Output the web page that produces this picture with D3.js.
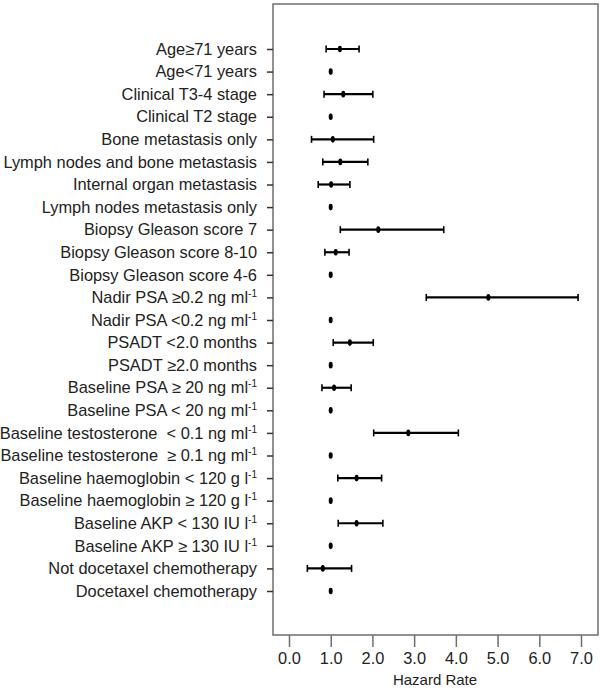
<!DOCTYPE html>
<html>
<head>
<meta charset="utf-8">
<script src="https://cdn.jsdelivr.net/npm/d3@7"></script>
<style>
  html, body { margin: 0; padding: 0; background: #fff; }
  svg { display: block; font-family: "Liberation Sans", Arial, sans-serif; }
  text { white-space: pre; }
</style>
</head>
<body>
<svg id="chart" width="600" height="688"></svg>
<script>
// Category labels (a "^" marks the start of a superscript)
const categories = [
  "Age≥71 years",
  "Age<71 years",
  "Clinical T3-4 stage",
  "Clinical T2 stage",
  "Bone metastasis only",
  "Lymph nodes and bone metastasis",
  "Internal organ metastasis",
  "Lymph nodes metastasis only",
  "Biopsy Gleason score 7",
  "Biopsy Gleason score 8-10",
  "Biopsy Gleason score 4-6",
  "Nadir PSA ≥0.2 ng ml^-1",
  "Nadir PSA <0.2 ng ml^-1",
  "PSADT <2.0 months",
  "PSADT ≥2.0 months",
  "Baseline PSA ≥ 20 ng ml^-1",
  "Baseline PSA < 20 ng ml^-1",
  "Baseline testosterone  < 0.1 ng ml^-1",
  "Baseline testosterone  ≥ 0.1 ng ml^-1",
  "Baseline haemoglobin < 120 g l^-1",
  "Baseline haemoglobin ≥ 120 g l^-1",
  "Baseline AKP < 130 IU l^-1",
  "Baseline AKP ≥ 130 IU l^-1",
  "Not docetaxel chemotherapy",
  "Docetaxel chemotherapy"
];
// Hazard ratio point estimates
const hazard = [1.22, 1.00, 1.30, 1.00, 1.05, 1.23, 1.01, 1.00, 2.14, 1.12, 1.00,
                4.78, 1.00, 1.46, 1.00, 1.08, 1.00, 2.86, 1.00, 1.62, 1.00, 1.62, 1.00, 0.81, 1.00];
// 95% CI lower bounds (null = reference category, no interval)
const lower = [0.89, null, 0.84, null, 0.54, 0.81, 0.70, null, 1.23, 0.86, null,
               3.29, null, 1.06, null, 0.79, null, 2.03, null, 1.17, null, 1.18, null, 0.44, null];
// 95% CI upper bounds
const upper = [1.68, null, 2.01, null, 2.03, 1.89, 1.46, null, 3.71, 1.44, null,
               6.93, null, 2.02, null, 1.49, null, 4.06, null, 2.22, null, 2.25, null, 1.50, null];
// X axis ticks
const xTicks = [0, 1, 2, 3, 4, 5, 6, 7];
const xTitle = "Hazard Rate";

const data = categories.map((c, i) => ({ cat: c, hr: hazard[i], lo: lower[i], hi: upper[i] }));

const svg = d3.select("#chart");
const box = { left: 273, right: 598, top: 4, bottom: 635 };

const x = d3.scaleLinear().domain([0, 7]).range([289, 581]);
const y = d3.scalePoint().domain(categories).range([49, 591]);

// frame
svg.append("rect")
  .attr("x", box.left).attr("y", box.top)
  .attr("width", box.right - box.left).attr("height", box.bottom - box.top)
  .attr("fill", "none").attr("stroke", "#6e6e6e").attr("stroke-width", 1.5);

// x axis
const xAxis = svg.append("g")
  .attr("transform", `translate(0,${box.bottom})`)
  .call(d3.axisBottom(x).tickValues(xTicks).tickFormat(d3.format(".1f")).tickSize(12).tickPadding(5));
xAxis.select(".domain").remove();
xAxis.selectAll(".tick line").attr("stroke", "#6e6e6e").attr("stroke-width", 1.5);
xAxis.selectAll(".tick text").attr("font-size", 16.4).attr("fill", "#222")
  .attr("font-family", "Liberation Sans, Arial, sans-serif");

svg.append("text")
  .attr("x", x(3.5)).attr("y", 685)
  .attr("text-anchor", "middle").attr("font-size", 15).attr("fill", "#222")
  .text(xTitle);

// y axis
const yAxis = svg.append("g")
  .attr("transform", `translate(${box.left},0)`)
  .call(d3.axisLeft(y).tickSize(6).tickPadding(10).tickFormat(""));
yAxis.select(".domain").remove();
yAxis.selectAll(".tick line").attr("stroke", "#333").attr("stroke-width", 1.5);

// y labels with superscripts
svg.append("g").selectAll("text")
  .data(categories)
  .join("text")
  .attr("x", 257)
  .attr("y", d => y(d))
  .attr("dy", "0.35em")
  .attr("text-anchor", "end")
  .attr("font-size", 16.4)
  .attr("fill", "#222")
  .each(function(d) {
    const parts = d.split("^");
    const t = d3.select(this);
    t.append("tspan").text(parts[0]);
    if (parts.length > 1) {
      t.append("tspan").attr("font-size", 10).attr("dy", "-6").text(parts[1]);
    }
  });

// error bars
const bars = data.filter(d => d.lo !== null);
const eb = svg.append("g").attr("stroke", "#000").attr("stroke-width", 2.2);
eb.selectAll("line.ci").data(bars).join("line").attr("class", "ci")
  .attr("x1", d => x(d.lo)).attr("x2", d => x(d.hi))
  .attr("y1", d => y(d.cat)).attr("y2", d => y(d.cat));
eb.selectAll("line.capl").data(bars).join("line").attr("class", "capl")
  .attr("stroke-width", 1.6)
  .attr("x1", d => x(d.lo)).attr("x2", d => x(d.lo))
  .attr("y1", d => y(d.cat) - 3.5).attr("y2", d => y(d.cat) + 3.5);
eb.selectAll("line.caph").data(bars).join("line").attr("class", "caph")
  .attr("stroke-width", 1.6)
  .attr("x1", d => x(d.hi)).attr("x2", d => x(d.hi))
  .attr("y1", d => y(d.cat) - 3.5).attr("y2", d => y(d.cat) + 3.5);

// points
svg.append("g").selectAll("ellipse")
  .data(data)
  .join("ellipse")
  .attr("cx", d => x(d.hr))
  .attr("cy", d => y(d.cat))
  .attr("rx", 2)
  .attr("ry", 3.3)
  .attr("fill", "#000");
</script>
</body>
</html>
